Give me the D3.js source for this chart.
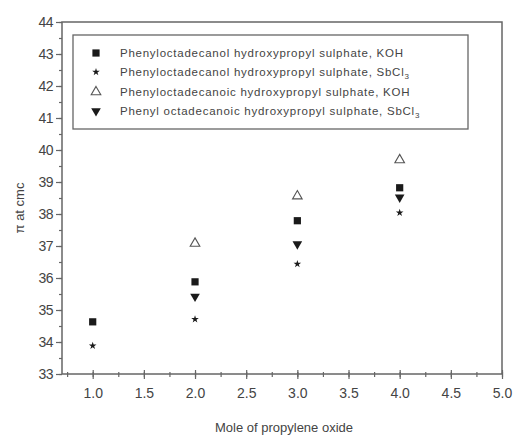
<!DOCTYPE html>
<html>
<head>
<meta charset="utf-8">
<script src="https://cdn.jsdelivr.net/npm/d3@7"></script>
<style>
  body { margin: 0; background: #fff; }
  svg text { font-family: "Liberation Sans", Arial, sans-serif; fill: #444; }
</style>
</head>
<body>
<svg id="chart"></svg>
<script>
// mole of propylene oxide
const moles = [1, 2, 3, 4]

// pi at cmc, one array per series (null = not measured)
const olKOH = [34.63, 35.88, 37.79, 38.82]
const olSbCl3 = [33.88, 34.71, 36.44, 38.04]
const oicKOH = [null, 37.08, 38.56, 39.69]
const oicSbCl3 = [null, 35.42, 37.06, 38.52]

const seriesNames = [
  ['Phenyloctadecanol hydroxypropyl sulphate, KOH', ''],
  ['Phenyloctadecanol hydroxypropyl sulphate, SbCl', '3'],
  ['Phenyloctadecanoic hydroxypropyl sulphate, KOH', ''],
  ['Phenyl octadecanoic hydroxypropyl sulphate, SbCl', '3']
]
const xTicks = [1.0, 1.5, 2.0, 2.5, 3.0, 3.5, 4.0, 4.5, 5.0]
const yTicks = [33, 34, 35, 36, 37, 38, 39, 40, 41, 42, 43, 44]

const width = 515
const height = 435
const pl = 62, pr = 502, pt = 22, pb = 374

const svg = d3.select('svg#chart')
  .attr('width', width)
  .attr('height', height)

const x = d3.scaleLinear().domain([0.7, 5.0]).range([pl, pr])
const y = d3.scaleLinear().domain([33, 44]).range([pb, pt])

const ink = '#1a1a1a'
const frame = '#666'

// frame
svg.append('rect')
  .attr('x', pl).attr('y', pt)
  .attr('width', pr - pl).attr('height', pb - pt)
  .attr('fill', 'none')
  .attr('stroke', frame)
  .attr('stroke-width', 1.5)

// y axis, majors every 1, minors every 0.5
const yAxis = svg.append('g')
  .attr('transform', `translate(${pl},0)`)
  .call(d3.axisLeft(y).tickValues(d3.range(33, 44.01, 0.5)).tickSize(3).tickFormat(''))
yAxis.select('.domain').remove()
yAxis.selectAll('line').attr('stroke', frame).attr('stroke-width', 1.2)
const yMaj = svg.append('g')
  .attr('transform', `translate(${pl},0)`)
  .call(d3.axisLeft(y).tickValues(yTicks).tickSize(6).tickPadding(3).tickFormat(d3.format('d')))
yMaj.select('.domain').remove()
yMaj.selectAll('line').attr('stroke', frame).attr('stroke-width', 1.2)
yMaj.selectAll('text')
  .style('font-size', '14px')
  .style('letter-spacing', '-0.5px')
  .attr('fill', '#555')

// x axis, majors every 0.5, minors every 0.25
const xMin = svg.append('g')
  .attr('transform', `translate(0,${pb})`)
  .call(d3.axisBottom(x).tickValues(d3.range(0.75, 5.01, 0.25)).tickSize(3).tickFormat(''))
xMin.select('.domain').remove()
xMin.selectAll('line').attr('stroke', frame).attr('stroke-width', 1.2).attr('y1', -2)
const xMaj = svg.append('g')
  .attr('transform', `translate(0,${pb})`)
  .call(d3.axisBottom(x).tickValues(xTicks).tickSize(5).tickPadding(9).tickFormat(d3.format('.1f')))
xMaj.select('.domain').remove()
xMaj.selectAll('line').attr('stroke', frame).attr('stroke-width', 1.2).attr('y1', -4)
xMaj.selectAll('text')
  .style('font-size', '14px')
  .attr('fill', '#555')

// axis titles
svg.append('text')
  .attr('x', (pl + pr) / 2 + 2)
  .attr('y', 432)
  .attr('text-anchor', 'middle')
  .style('font-size', '13px')
  .attr('fill', '#555')
  .text('Mole of propylene oxide')

svg.append('text')
  .attr('transform', `translate(24,${(pt + pb) / 2 + 10}) rotate(-90)`)
  .attr('text-anchor', 'middle')
  .style('font-size', '13px')
  .attr('fill', '#555')
  .text('π at cmc')

// marker shapes
const sym = {
  square: d3.symbol().type(d3.symbolSquare).size(52),
  star: d3.symbol().type(d3.symbolStar).size(18),
  tri: d3.symbol().type(d3.symbolTriangle).size(40)
}
const markers = [
  { path: sym.square(), fill: ink, stroke: 'none', rot: 0 },
  { path: sym.star(), fill: ink, stroke: 'none', rot: 0 },
  { path: sym.tri(), fill: 'none', stroke: '#555', rot: 0 },
  { path: sym.tri(), fill: ink, stroke: 'none', rot: 180 }
]
const series = [olKOH, olSbCl3, oicKOH, oicSbCl3]

series.forEach((vals, i) => {
  const m = markers[i]
  svg.append('g')
    .selectAll('path')
    .data(moles.map((mo, j) => ({ x: mo, y: vals[j] })).filter(d => d.y != null))
    .enter().append('path')
    .attr('d', m.path)
    .attr('fill', m.fill)
    .attr('stroke', m.stroke)
    .attr('stroke-width', 1.1)
    .attr('transform', d => `translate(${x(d.x)},${y(d.y)}) rotate(${m.rot})`)
})

// legend
const lg = svg.append('g')
lg.append('rect')
  .attr('x', 73).attr('y', 35)
  .attr('width', 395).attr('height', 94)
  .attr('fill', 'none')
  .attr('stroke', frame)
  .attr('stroke-width', 1.3)

const rowY = [53, 72, 92, 111]
seriesNames.forEach((nm, i) => {
  const m = markers[i]
  lg.append('path')
    .attr('d', m.path)
    .attr('fill', m.fill)
    .attr('stroke', m.stroke)
    .attr('stroke-width', 1.1)
    .attr('transform', `translate(96,${rowY[i]}) rotate(${m.rot})`)
  const t = lg.append('text')
    .attr('x', 120)
    .attr('y', rowY[i] + 4)
    .style('font-size', '11.5px')
    .style('letter-spacing', '0.75px')
    .attr('fill', '#333')
  t.append('tspan').text(nm[0])
  if (nm[1]) {
    t.append('tspan')
      .attr('dy', 3)
      .style('font-size', '8px')
      .text(nm[1])
  }
})
</script>
</body>
</html>
